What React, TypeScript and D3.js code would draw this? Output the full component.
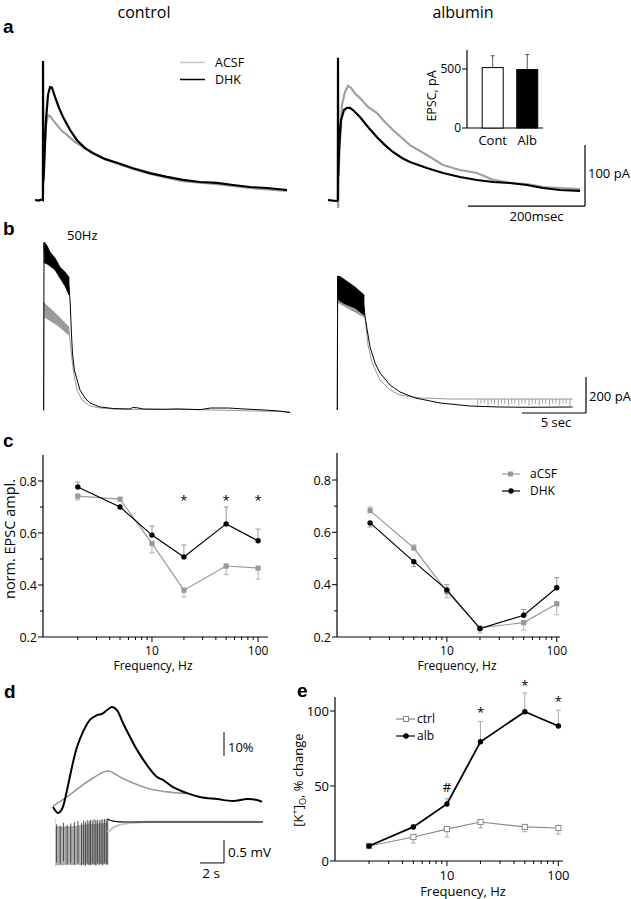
import React from "react";
import * as d3 from "d3";

type P = [number, number];
type B = [number, number, number];

// ---------------- text ----------------
const columnTitles = ["control", "albumin"];
const panelLetters = ["a", "b", "c", "d", "e"];

// ---------------- panel a (time ms, current pA) ----------------
const aCtrlDHK: P[] = [[0,0],[6,-1],[12,1],[13.5,0],[13.7,228],[14.3,30],[15.4,49],[18.8,131],[22.2,172],[25.6,185],[29,184],[34.2,169],[41,151],[47.9,136],[59.8,115],[71.8,98],[85.5,85],[99,77],[120,67],[140,61],[167.5,52],[196.6,44],[225.6,38],[253,33],[282,29.5],[311,28],[338.5,24.6],[367.5,21.3],[396.6,19.7],[430.8,16.4]];
const aCtrlACSF: P[] = [[13.9,10],[15.4,66],[18.8,123],[22.2,139],[25.6,138],[30.8,131],[37.6,123],[46,113],[54.7,106.6],[68.4,95],[82,87],[97.4,77],[111,70.5],[140,60],[167.5,50.8],[196.6,42.6],[253,31],[311,26],[367.5,19.7],[430.8,14.8]];
const aAlbDHK: P[] = [[0,0],[8,-1],[15.4,-1.6],[16.8,0],[17.1,233],[17.6,40],[18.8,82],[22.2,131],[27.4,147.5],[32.5,151],[37.6,151],[42.7,147.5],[54.7,136],[68.4,119.7],[83.8,103],[97.4,90],[111,78.7],[126.5,68.9],[140,62.3],[169,52.5],[196.6,44.3],[225.6,37.7],[254.7,32.8],[282,29.5],[311,27.9],[340,24.6],[367.5,19.7],[396.6,16.4],[430.8,14.8]];
const aAlbACSF: P[] = [[16.8,0],[17.4,-13],[18.2,40],[20.5,98],[23.9,156],[29,177],[34.2,187],[39.3,184],[46,175],[54.7,167],[68.4,152.5],[83.8,142.6],[97.4,128],[111,114.8],[126.5,101.6],[140,90],[169,73.8],[196.6,57.4],[225.6,49.2],[254.7,44.3],[282,33],[311,27.9],[340,26.2],[367.5,21.3],[396.6,19.7],[430.8,18]];
const aLegend = ["ACSF", "DHK"];

// inset bar chart
const insetCats = ["Cont", "Alb"];
const insetMeans = [512, 495];
const insetErr = [100, 128];
const insetTicks = [0, 500];

// ---------------- panel b (time s, current pA) ----------------
const bCtrlDHKBand: B[] = [[0.1,933,817],[0.3,915,812],[0.55,878,800],[0.94,844,778],[1.33,794,733],[1.72,767,689],[2.03,739,639]];
const bCtrlDHKTrace: P[] = [[0,0],[0.05,0],[0.08,930],[0.1,875],[2.03,690],[2.13,594],[2.21,444],[2.3,317],[2.45,222],[2.73,150],[2.89,111],[3.28,67],[3.67,39],[4.45,17],[5.5,8],[6.8,5.5],[7.0,14],[7.4,12],[7.8,5.5],[9.4,4],[10.5,6],[12.3,2],[13.1,11],[14.5,11],[15.6,6],[17.3,0],[18.5,-6],[19.3,-14]];
const bCtrlACSFBand: B[] = [[0.1,594,517],[1.1,528,472],[2.03,461,417]];
const bCtrlACSFTrace: P[] = [[0,0],[0.06,0],[0.08,600],[0.1,555],[2.03,439],[2.1,389],[2.27,278],[2.42,194],[2.66,111],[3.05,55],[3.67,22],[4.45,11],[6,4],[12,2],[19.3,-10]];
const bAlbDHKBand: B[] = [[0.06,700,640],[0.12,733,600],[0.3,728,592],[0.63,711,578],[1.41,672,556],[2.11,628,517]];
const bAlbDHKTrace: P[] = [[0,0],[0.03,-11],[0.05,733],[0.08,660],[2.11,570],[2.19,506],[2.58,339],[2.97,250],[3.36,194],[4.14,128],[4.92,89],[6.09,56],[8.05,28],[10.4,11],[12.7,5.5],[15,4],[18.4,5.5]];
const bAlbACSFBand: B[] = [[0.08,640,585],[2.11,560,506]];
const bAlbACSFTrace: P[] = [[0,0],[0.05,600],[0.08,610],[2.11,530],[2.19,506],[2.42,350],[2.73,255],[3.36,155],[4.14,100],[4.92,72],[6.48,56],[8.83,50],[18.4,50]];
const bAlbACSFSpikes = [11.0,11.25,11.5,11.8,12.05,12.3,12.6,12.85,13.1,13.4,13.65,13.9,14.2,14.45,14.7,15.0,15.25,15.5,15.8,16.05,16.3,16.6,16.85,17.1,17.4,17.65,17.9,18.2];

// ---------------- panel c ----------------
const freqs = [2, 5, 10, 20, 50, 100];
const cCtrlACSF = [0.742, 0.73, 0.56, 0.38, 0.473, 0.465];
const cCtrlACSFErr = [-0.015, 0, -0.037, -0.026, -0.033, -0.042];
const cCtrlDHK = [0.777, 0.70, 0.592, 0.508, 0.635, 0.57];
const cCtrlDHKErr = [0.019, 0, 0.035, 0.046, 0.065, 0.045];
const cCtrlStars = [20, 50, 100];
const cAlbACSF = [0.683, 0.54, 0.373, 0.235, 0.255, 0.327];
const cAlbACSFErr = [0.014, 0.012, -0.023, -0.02, -0.028, -0.042];
const cAlbDHK = [0.636, 0.488, 0.38, 0.232, 0.283, 0.388];
const cAlbDHKErr = [-0.016, -0.018, 0.02, 0, 0.022, 0.039];
const cYTicks = [0.2, 0.4, 0.6, 0.8];
const cYMinor = [0.3, 0.5, 0.7];
const cLegend = ["aCSF", "DHK"];

// ---------------- panel d ----------------
const dKAlb: P[] = [[0,0],[0.42,-2.5],[0.75,-0.8],[1.17,7.1],[1.58,16.7],[2.0,25],[2.5,31.3],[3.08,36.3],[3.67,38.3],[4.08,38.8],[4.5,40.4],[4.92,41.7],[5.33,40.4],[5.83,35],[6.42,29.2],[7.0,23.8],[7.83,17.5],[8.67,12.5],[9.17,11.3],[10.0,8.3],[11.17,5.8],[12.25,4.2],[13.67,3.3],[15.0,2.5],[16.17,3.3],[17.0,2.9],[17.42,2.1]];
const dKCtrl: P[] = [[0,0.4],[1.17,4.2],[2.25,8.3],[3.33,12.1],[4.58,15],[5.58,12.5],[6.67,10],[8.08,7.5],[9.5,6.3],[10.58,5.8],[11.2,5.6]];
const dStimEnvelope: B[] = [[0.2,-0.1,-0.94],[1.5,-0.1,-0.93],[2.6,-0.06,-0.93],[4.55,-0.02,-0.92]];
const dStimCtrlT = [0.22,0.38,0.5,0.68,0.82,0.95,1.12,1.25,1.4,1.58,1.7,1.85,2.02,2.15,2.3,2.48,2.6,2.75,2.92,3.05,3.2,3.38,3.5,3.65,3.82,3.95,4.1,4.28,4.4,4.5];
const dStimCtrlLo = [-0.97,-0.92,-0.95,-0.9,-0.96,-0.93,-0.9,-0.95,-0.92,-0.96,-0.9,-0.94,-0.92,-0.95,-0.9,-0.93,-0.96,-0.91,-0.94,-0.9,-0.95,-0.92,-0.9,-0.94,-0.93,-0.9,-0.95,-0.92,-0.9,-0.93];
const dStimCtrlHi = [0.08,-0.15,-0.1,-0.18,-0.12,-0.16,-0.1,-0.14,-0.12,-0.08,-0.12,-0.1,-0.08,-0.1,-0.06,-0.08,-0.05,-0.06,-0.04,-0.03,-0.05,-0.04,-0.06,-0.03,-0.04,-0.02,-0.03,-0.02,-0.04,-0.02];
const dStimAlbT = [0.3,0.6,0.88,1.18,1.48,1.78,2.08,2.38,2.55,2.7,2.85,3.0,3.12,3.27,3.42,3.57,3.7,3.86,4.0,4.15,4.3,4.44,4.56];
const dStimAlbLo = [-0.88,-0.9,-0.85,-0.92,-0.9,-0.93,-0.9,-0.94,-0.92,-0.95,-0.9,-0.93,-0.94,-0.9,-0.92,-0.95,-0.9,-0.93,-0.91,-0.94,-0.9,-0.92,-0.93];
const dStimAlbHi = [-0.05,-0.08,-0.02,-0.06,-0.03,0.0,0.02,-0.02,0.03,0.0,0.04,0.02,0.05,0.03,0.06,0.04,0.05,0.03,0.06,0.05,0.07,0.06,0.08];
const dPostAlb: P[] = [[4.55,0.06],[5,0.02],[6,0],[17.5,0]];
const dPostCtrl: P[] = [[4.55,-0.22],[5.2,-0.1],[6.5,-0.02],[9,0.01],[17.5,0]];

// ---------------- panel e ----------------
const eCtrl = [10, 16, 21.3, 26, 22.7, 22];
const eCtrlErr = [0, -4, -5.3, -4, -3.2, -4];
const eAlb = [10, 22.7, 38, 79.5, 99.5, 90];
const eAlbErr = [0, 1.5, 3.5, 13.5, 12.5, 10.5];
const eMarks: { f: number; s: string; v: number }[] = [
  { f: 10, s: "#", v: 48.7 },
  { f: 20, s: "*", v: 100.7 },
  { f: 50, s: "*", v: 118.7 },
  { f: 100, s: "*", v: 108 },
];
const eYTicks = [0, 50, 100];
const eLegend = ["ctrl", "alb"];

const F = "'Open Sans', 'DejaVu Sans', sans-serif";
const FB = "'Liberation Sans', Arial, sans-serif";

function isMajor(t: number) {
  const l = Math.log10(t);
  return Math.abs(l - Math.round(l)) < 1e-6;
}

function LogAxisX({ xs, y, fs, labelDy }: { xs: any; y: number; fs: number; labelDy: number }) {
  const [r0, r1] = xs.range();
  const ticks: number[] = xs.ticks().filter((t: number) => t > 1.5);
  return (
    <g>
      <line x1={r0} x2={r1} y1={y} y2={y} stroke="#000" strokeWidth={1.2} />
      {ticks.map((t) => (
        <line key={t} x1={xs(t)} x2={xs(t)} y1={y} y2={y + (isMajor(t) ? 5 : 3)} stroke="#000" strokeWidth={1} />
      ))}
      {ticks.filter(isMajor).map((t) => (
        <text key={"l" + t} x={xs(t)} y={y + labelDy} fontSize={fs} fontFamily={F} textAnchor="middle">
          {t}
        </text>
      ))}
    </g>
  );
}

function AxisY({ ys, x, top, majors, minors, fs, fmt }: { ys: any; x: number; top: number; majors: number[]; minors: number[]; fs: number; fmt: (v: number) => string }) {
  const bottom = ys(d3.min(majors) as number);
  return (
    <g>
      <line x1={x} x2={x} y1={top} y2={bottom} stroke="#000" strokeWidth={1.2} />
      {majors.map((v) => (
        <g key={v}>
          <line x1={x - 5} x2={x} y1={ys(v)} y2={ys(v)} stroke="#000" />
          <text x={x - 6} y={ys(v)} dy="0.36em" fontSize={fs} fontFamily={F} textAnchor="end">
            {fmt(v)}
          </text>
        </g>
      ))}
      {minors.map((v) => (
        <line key={"m" + v} x1={x - 3} x2={x} y1={ys(v)} y2={ys(v)} stroke="#000" />
      ))}
    </g>
  );
}

function ErrBars({ xs, ys, vals, errs, color }: { xs: any; ys: any; vals: number[]; errs: number[]; color: string }) {
  return (
    <g stroke={color} strokeWidth={1}>
      {vals.map((v, i) =>
        errs[i] === 0 ? null : (
          <g key={i}>
            <line x1={xs(freqs[i])} x2={xs(freqs[i])} y1={ys(v)} y2={ys(v + errs[i])} />
            <line x1={xs(freqs[i]) - 2.5} x2={xs(freqs[i]) + 2.5} y1={ys(v + errs[i])} y2={ys(v + errs[i])} />
          </g>
        )
      )}
    </g>
  );
}

function Series({ xs, ys, vals, color, width, marker }: { xs: any; ys: any; vals: number[]; color: string; width: number; marker: "sq" | "circ" | "osq" }) {
  const line = d3.line<number>().x((_, i) => xs(freqs[i])).y((v) => ys(v));
  return (
    <g>
      <path d={line(vals) || ""} fill="none" stroke={color} strokeWidth={width} />
      {vals.map((v, i) =>
        marker === "circ" ? (
          <circle key={i} cx={xs(freqs[i])} cy={ys(v)} r={2.7} fill={color} />
        ) : (
          <rect key={i} x={xs(freqs[i]) - 2.6} y={ys(v) - 2.6} width={5.2} height={5.2} fill={marker === "osq" ? "#fff" : color} stroke={marker === "osq" ? color : "none"} strokeWidth={1} />
        )
      )}
    </g>
  );
}

export default function App() {
  // ---- panel a scales ----
  const axL = d3.scaleLinear().domain([0, 100]).range([35, 35 + 58.5]);
  const axR = d3.scaleLinear().domain([0, 100]).range([328, 328 + 58.5]);
  const ayA = d3.scaleLinear().domain([0, 100]).range([200, 139]);
  const lineAL = d3.line<P>().x((d) => axL(d[0])).y((d) => ayA(d[1]));
  const lineAR = d3.line<P>().x((d) => axR(d[0])).y((d) => ayA(d[1]));

  // inset
  const ixs = d3.scalePoint<string>().domain(insetCats).range([467, 543]).padding(0.6).align(0.62);
  const iys = d3.scaleLinear().domain([0, 500]).range([128, 69]);

  // ---- panel b scales ----
  const bxL = d3.scaleLinear().domain([0, 5]).range([43, 43 + 64]);
  const bxR = d3.scaleLinear().domain([0, 5]).range([337, 337 + 64]);
  const byL = d3.scaleLinear().domain([0, 200]).range([410, 374]);
  const byR = d3.scaleLinear().domain([0, 200]).range([408, 372]);
  const lineBL = d3.line<P>().x((d) => bxL(d[0])).y((d) => byL(d[1]));
  const lineBR = d3.line<P>().x((d) => bxR(d[0])).y((d) => byR(d[1]));
  const areaBL = d3.area<B>().x((d) => bxL(d[0])).y0((d) => byL(d[2])).y1((d) => byL(d[1]));
  const areaBR = d3.area<B>().x((d) => bxR(d[0])).y0((d) => byR(d[2])).y1((d) => byR(d[1]));

  // ---- panel c scales ----
  const cxL = d3.scaleLog().domain([0.94, 124]).range([43, 268]);
  const cxR = d3.scaleLog().domain([1, 107]).range([337, 560]);
  const cyL = d3.scaleLinear().domain([0.2, 0.8]).range([637, 481]);
  const cyR = d3.scaleLinear().domain([0.2, 0.8]).range([637, 480]);

  // ---- panel d scales ----
  const dx = d3.scaleLinear().domain([0, 2]).range([53, 77]);
  const dyK = d3.scaleLinear().domain([0, 10]).range([807, 783]);
  const dyV = d3.scaleLinear().domain([0, 0.5]).range([822, 799]);
  const lineDK = d3.line<P>().x((d) => dx(d[0])).y((d) => dyK(d[1])).curve(d3.curveCatmullRom);
  const lineDV = d3.line<P>().x((d) => dx(d[0])).y((d) => dyV(d[1])).curve(d3.curveMonotoneX);
  const areaDV = d3.area<B>().x((d) => dx(d[0])).y0((d) => dyV(d[2])).y1((d) => dyV(d[1]));

  // ---- panel e scales ----
  const ex = d3.scaleLog().domain([0.99, 110]).range([335, 563]);
  const ey = d3.scaleLinear().domain([0, 100]).range([861, 711]);

  const fmt1 = (v: number) => v.toFixed(1);
  const fmt0 = (v: number) => String(v);

  return (
    <svg width={631} height={899} style={{ position: "absolute", left: 0, top: 0, background: "#fff" }}>
      <rect x={0} y={0} width={631} height={899} fill="#fff" />
      {/* titles */}
      <text x={144} y={17.5} fontSize={16} fontFamily={F} textAnchor="middle">{columnTitles[0]}</text>
      <text x={463} y={17.5} fontSize={16} fontFamily={F} textAnchor="middle">{columnTitles[1]}</text>
      {/* panel letters */}
      <g fontFamily={FB} fontWeight="bold" fontSize={19}>
        <text x={3} y={33}>{panelLetters[0]}</text>
        <text x={3} y={235}>{panelLetters[1]}</text>
        <text x={3} y={447}>{panelLetters[2]}</text>
        <text x={4} y={698}>{panelLetters[3]}</text>
        <text x={297} y={697}>{panelLetters[4]}</text>
      </g>

      {/* ===== panel a ===== */}
      <path d={lineAL(aCtrlACSF) || ""} fill="none" stroke="#a0a0a0" strokeWidth={2.2} />
      <path d={lineAL(aCtrlDHK) || ""} fill="none" stroke="#000" strokeWidth={2.2} />
      <line x1={180} x2={205} y1={62.5} y2={62.5} stroke="#c8c8c8" strokeWidth={1.5} />
      <line x1={180} x2={205} y1={79.5} y2={79.5} stroke="#000" strokeWidth={1.5} />
      <text x={215} y={62.5} dy="0.36em" fontSize={12.5} fontFamily={F}>{aLegend[0]}</text>
      <text x={215} y={79.5} dy="0.36em" fontSize={12.5} fontFamily={F}>{aLegend[1]}</text>

      <path d={lineAR(aAlbACSF) || ""} fill="none" stroke="#a0a0a0" strokeWidth={2.2} />
      <path d={lineAR(aAlbDHK) || ""} fill="none" stroke="#000" strokeWidth={2.2} />
      {/* scale bars a */}
      <line x1={585} x2={585} y1={ayA(-10)} y2={ayA(90)} stroke="#000" strokeWidth={1.2} />
      <line x1={axR(239.3)} x2={axR(439.3)} y1={ayA(-10)} y2={ayA(-10)} stroke="#000" strokeWidth={1.2} />
      <text x={588} y={173} dy="0.36em" fontSize={13} fontFamily={F}>100 pA</text>
      <text x={(axR(239.3) + axR(439.3)) / 2 + 10} y={221} fontSize={13} fontFamily={F} textAnchor="middle">200msec</text>

      {/* inset */}
      <AxisY ys={iys} x={467} top={50} majors={insetTicks} minors={[]} fs={12} fmt={fmt0} />
      <line x1={467} x2={543} y1={128} y2={128} stroke="#000" strokeWidth={1.2} />
      {insetCats.map((c, i) => (
        <g key={c}>
          <line x1={ixs(c)!} x2={ixs(c)!} y1={iys(insetMeans[i])} y2={iys(insetMeans[i] + insetErr[i])} stroke="#555" strokeWidth={1} />
          <line x1={ixs(c)! - 2} x2={ixs(c)! + 2} y1={iys(insetMeans[i] + insetErr[i])} y2={iys(insetMeans[i] + insetErr[i])} stroke="#555" strokeWidth={1} />
          <rect x={ixs(c)! - 10.5} y={iys(insetMeans[i])} width={21} height={iys(0) - iys(insetMeans[i])} fill={i === 0 ? "#fff" : "#000"} stroke="#000" strokeWidth={1} />
          <text x={ixs(c)!} y={145} fontSize={13} fontFamily={F} textAnchor="middle">{c}</text>
        </g>
      ))}
      <text transform="translate(431,96) rotate(-90)" fontSize={12.5} fontFamily={F} textAnchor="middle" dy="0.36em">EPSC, pA</text>

      {/* ===== panel b ===== */}
      <text x={67} y={240} fontSize={13} fontFamily={F}>50Hz</text>
      <path d={areaBL(bCtrlACSFBand) || ""} fill="#9a9a9a" stroke="#9a9a9a" strokeWidth={0.8} />
      <path d={lineBL(bCtrlACSFTrace) || ""} fill="none" stroke="#9a9a9a" strokeWidth={1} />
      <path d={areaBL(bCtrlDHKBand) || ""} fill="#000" stroke="#000" strokeWidth={0.8} />
      <path d={lineBL(bCtrlDHKTrace) || ""} fill="none" stroke="#000" strokeWidth={1} />

      <path d={areaBR(bAlbACSFBand) || ""} fill="#9a9a9a" stroke="#9a9a9a" strokeWidth={0.8} />
      <path d={lineBR(bAlbACSFTrace) || ""} fill="none" stroke="#9a9a9a" strokeWidth={1} />
      {bAlbACSFSpikes.map((t, i) => (
        <line key={i} x1={bxR(t)} x2={bxR(t)} y1={byR(50)} y2={byR(i % 3 === 0 ? 14 : 24)} stroke="#888" strokeWidth={0.8} />
      ))}
      <path d={areaBR(bAlbDHKBand) || ""} fill="#000" stroke="#000" strokeWidth={0.8} />
      <path d={lineBR(bAlbDHKTrace) || ""} fill="none" stroke="#000" strokeWidth={1} />
      {/* scale bars b */}
      <line x1={586} x2={586} y1={413} y2={413 - (byR(0) - byR(200))} stroke="#000" strokeWidth={1.2} />
      <line x1={586 - (bxR(5) - bxR(0))} x2={586} y1={413} y2={413} stroke="#000" strokeWidth={1.2} />
      <text x={589} y={396} dy="0.36em" fontSize={13} fontFamily={F}>200 pA</text>
      <text x={556} y={427} fontSize={13} fontFamily={F} textAnchor="middle">5 sec</text>

      {/* ===== panel c left ===== */}
      <AxisY ys={cyL} x={43} top={455} majors={cYTicks} minors={cYMinor} fs={12.5} fmt={fmt1} />
      <LogAxisX xs={cxL} y={637} fs={12} labelDy={17.5} />
      <text x={153} y={670} fontSize={12} fontFamily={F} textAnchor="middle">Frequency, Hz</text>
      <text transform="translate(10,539) rotate(-90)" fontSize={14.5} fontFamily={F} textAnchor="middle" dy="0.36em">norm. EPSC ampl.</text>
      <ErrBars xs={cxL} ys={cyL} vals={cCtrlACSF} errs={cCtrlACSFErr} color="#b0b0b0" />
      <ErrBars xs={cxL} ys={cyL} vals={cCtrlDHK} errs={cCtrlDHKErr} color="#999" />
      <Series xs={cxL} ys={cyL} vals={cCtrlACSF} color="#999" width={1.2} marker="sq" />
      <Series xs={cxL} ys={cyL} vals={cCtrlDHK} color="#000" width={1.2} marker="circ" />
      {cCtrlStars.map((f) => (
        <text key={f} x={cxL(f)} y={505} fontSize={13} fontFamily={F} textAnchor="middle">*</text>
      ))}

      {/* ===== panel c right ===== */}
      <AxisY ys={cyR} x={337} top={453} majors={cYTicks} minors={cYMinor} fs={12.5} fmt={fmt1} />
      <LogAxisX xs={cxR} y={637} fs={12} labelDy={17.5} />
      <text x={457} y={670} fontSize={12} fontFamily={F} textAnchor="middle">Frequency, Hz</text>
      <ErrBars xs={cxR} ys={cyR} vals={cAlbACSF} errs={cAlbACSFErr} color="#b0b0b0" />
      <ErrBars xs={cxR} ys={cyR} vals={cAlbDHK} errs={cAlbDHKErr} color="#999" />
      <Series xs={cxR} ys={cyR} vals={cAlbACSF} color="#999" width={1.2} marker="sq" />
      <Series xs={cxR} ys={cyR} vals={cAlbDHK} color="#000" width={1.2} marker="circ" />
      {/* legend c */}
      <line x1={502} x2={520} y1={474} y2={474} stroke="#999" strokeWidth={1.2} />
      <rect x={508} y={471.5} width={5} height={5} fill="#999" />
      <text x={530} y={474} dy="0.36em" fontSize={12} fontFamily={F}>{cLegend[0]}</text>
      <line x1={502} x2={520} y1={491} y2={491} stroke="#000" strokeWidth={1.2} />
      <circle cx={511} cy={491} r={2.7} fill="#000" />
      <text x={530} y={491} dy="0.36em" fontSize={12} fontFamily={F}>{cLegend[1]}</text>

      {/* ===== panel d ===== */}
      <path d={lineDK(dKCtrl) || ""} fill="none" stroke="#999" strokeWidth={1.6} />
      <path d={lineDK(dKAlb) || ""} fill="none" stroke="#000" strokeWidth={2} />
      <path d={areaDV(dStimEnvelope) || ""} fill="#a0a0a0" stroke="none" />
      {dStimCtrlT.map((t, i) => (
        <line key={"c" + i} x1={dx(t)} x2={dx(t)} y1={dyV(dStimCtrlHi[i])} y2={dyV(dStimCtrlLo[i])} stroke="#c6c6c6" strokeWidth={0.7} />
      ))}
      {dStimAlbT.map((t, i) => (
        <line key={"a" + i} x1={dx(t)} x2={dx(t)} y1={dyV(dStimAlbHi[i])} y2={dyV(dStimAlbLo[i])} stroke="#3c3c3c" strokeWidth={0.9} />
      ))}
      <path d={lineDV(dPostCtrl) || ""} fill="none" stroke="#c8c8c8" strokeWidth={2.2} />
      <path d={lineDV(dPostAlb) || ""} fill="none" stroke="#000" strokeWidth={1.2} />
      {/* scale bars d */}
      <line x1={224} x2={224} y1={dyK(31.25)} y2={dyK(21.25)} stroke="#000" strokeWidth={1} />
      <text x={228} y={747} dy="0.36em" fontSize={13} fontFamily={F}>10%</text>
      <line x1={224} x2={224} y1={dyV(-0.39)} y2={dyV(-0.89)} stroke="#000" strokeWidth={1} />
      <line x1={dx(12.25)} x2={dx(14.25)} y1={dyV(-0.89)} y2={dyV(-0.89)} stroke="#000" strokeWidth={1} />
      <text x={228} y={852} dy="0.36em" fontSize={13.5} fontFamily={F}>0.5 mV</text>
      <text x={211} y={878} fontSize={13.5} fontFamily={F} textAnchor="middle">2 s</text>

      {/* ===== panel e ===== */}
      <AxisY ys={ey} x={335} top={697} majors={eYTicks} minors={[]} fs={13} fmt={fmt0} />
      <LogAxisX xs={ex} y={861} fs={13} labelDy={18.5} />
      <text x={463} y={896} fontSize={13} fontFamily={F} textAnchor="middle">Frequency, Hz</text>
      <text transform="translate(298,780) rotate(-90)" fontSize={13} fontFamily={F} textAnchor="middle" dy="0.36em">
        [K<tspan dy="-5" fontSize={9}>+</tspan>
        <tspan dy="5">]</tspan>
        <tspan dy="3" fontSize={9}>O</tspan>
        <tspan dy="-3">, % change</tspan>
      </text>
      <g>
        {eCtrl.map((v, i) =>
          eCtrlErr[i] === 0 ? null : (
            <g key={"ec" + i} stroke="#aaa">
              <line x1={ex(freqs[i])} x2={ex(freqs[i])} y1={ey(v)} y2={ey(v + eCtrlErr[i])} />
              <line x1={ex(freqs[i]) - 2.5} x2={ex(freqs[i]) + 2.5} y1={ey(v + eCtrlErr[i])} y2={ey(v + eCtrlErr[i])} />
            </g>
          )
        )}
        {eAlb.map((v, i) =>
          eAlbErr[i] === 0 ? null : (
            <g key={"ea" + i} stroke="#aaa">
              <line x1={ex(freqs[i])} x2={ex(freqs[i])} y1={ey(v)} y2={ey(v + eAlbErr[i])} />
              <line x1={ex(freqs[i]) - 2.5} x2={ex(freqs[i]) + 2.5} y1={ey(v + eAlbErr[i])} y2={ey(v + eAlbErr[i])} />
            </g>
          )
        )}
      </g>
      <Series xs={ex} ys={ey} vals={eCtrl} color="#888" width={1.2} marker="osq" />
      <Series xs={ex} ys={ey} vals={eAlb} color="#000" width={1.8} marker="circ" />
      {eMarks.map((m) => (
        <text key={m.f} x={ex(m.f)} y={ey(m.v)} dy={m.s === "*" ? 7 : 4.5} fontSize={13} fontFamily={F} textAnchor="middle">{m.s}</text>
      ))}
      {/* legend e */}
      <line x1={396} x2={415} y1={719} y2={719} stroke="#888" strokeWidth={1.2} />
      <rect x={403.5} y={716.5} width={5} height={5} fill="#fff" stroke="#888" />
      <text x={417} y={719} dy="0.36em" fontSize={12} fontFamily={F}>{eLegend[0]}</text>
      <line x1={396} x2={415} y1={736} y2={736} stroke="#000" strokeWidth={1.2} />
      <circle cx={406} cy={736} r={2.7} fill="#000" />
      <text x={417} y={736} dy="0.36em" fontSize={12} fontFamily={F}>{eLegend[1]}</text>
    </svg>
  );
}
